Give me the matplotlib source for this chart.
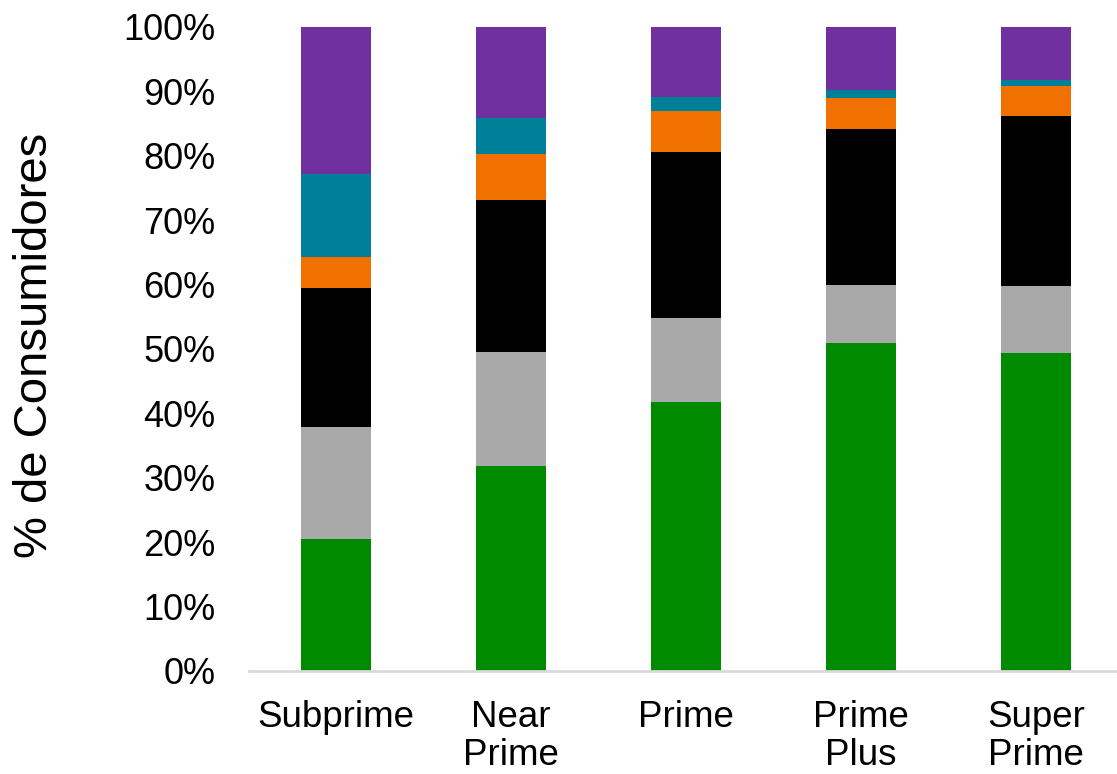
import matplotlib
matplotlib.use("Agg")
import matplotlib.pyplot as plt
import numpy as np

plt.rcParams['font.family'] = ['Liberation Sans', 'DejaVu Sans']

categories = ["Subprime", "Near\nPrime", "Prime", "Prime\nPlus", "Super\nPrime"]

# Share of consumers (%) in each segment, stacked bottom to top
seg_green = [20.5, 31.8, 41.8, 50.9, 49.4]
seg_gray = [17.4, 17.7, 13.0, 9.0, 10.4]
seg_black = [21.6, 23.6, 25.8, 24.3, 26.4]
seg_orange = [4.8, 7.2, 6.3, 4.7, 4.7]
seg_teal = [12.9, 5.5, 2.3, 1.3, 0.9]
seg_purple = [22.8, 14.2, 10.8, 9.8, 8.2]

series = [seg_green, seg_gray, seg_black, seg_orange, seg_teal, seg_purple]
colors = ["#008A00", "#A9A9A9", "#000000", "#F07000", "#007F99", "#7030A0"]

W, H = 1117, 774
fig = plt.figure(figsize=(W / 100, H / 100), dpi=100)
ax = fig.add_axes([248.5 / W, (H - 671) / H, 875 / W, 644 / H])

x = np.arange(len(categories))
bottom = np.zeros(len(categories))
for vals, col in zip(series, colors):
    v = np.array(vals) / 100.0
    ax.bar(x, v, width=0.4, bottom=bottom, color=col, linewidth=0)
    bottom += v

ax.set_xlim(-0.5, len(categories) - 0.5)
ax.set_ylim(0, 1)
ticks = np.arange(0, 1.01, 0.1)
ax.set_yticks(ticks)
ax.set_yticklabels([f"{int(round(t * 100))}%" for t in ticks])
ax.set_xticks(x)
ax.set_xticklabels(categories, linespacing=1.12)

ax.tick_params(axis='y', length=0, pad=24, labelsize=26)
ax.tick_params(axis='x', length=0, pad=21, labelsize=26.5)

for s in ["top", "right", "left"]:
    ax.spines[s].set_visible(False)
ax.spines["bottom"].set_color("#D9D9D9")
ax.spines["bottom"].set_linewidth(2)

fig.text(35 / W, 1 - 345 / H, "% de Consumidores", rotation=90, fontsize=34,
         ha="center", va="center")

fig.savefig("out.png", dpi=100)
